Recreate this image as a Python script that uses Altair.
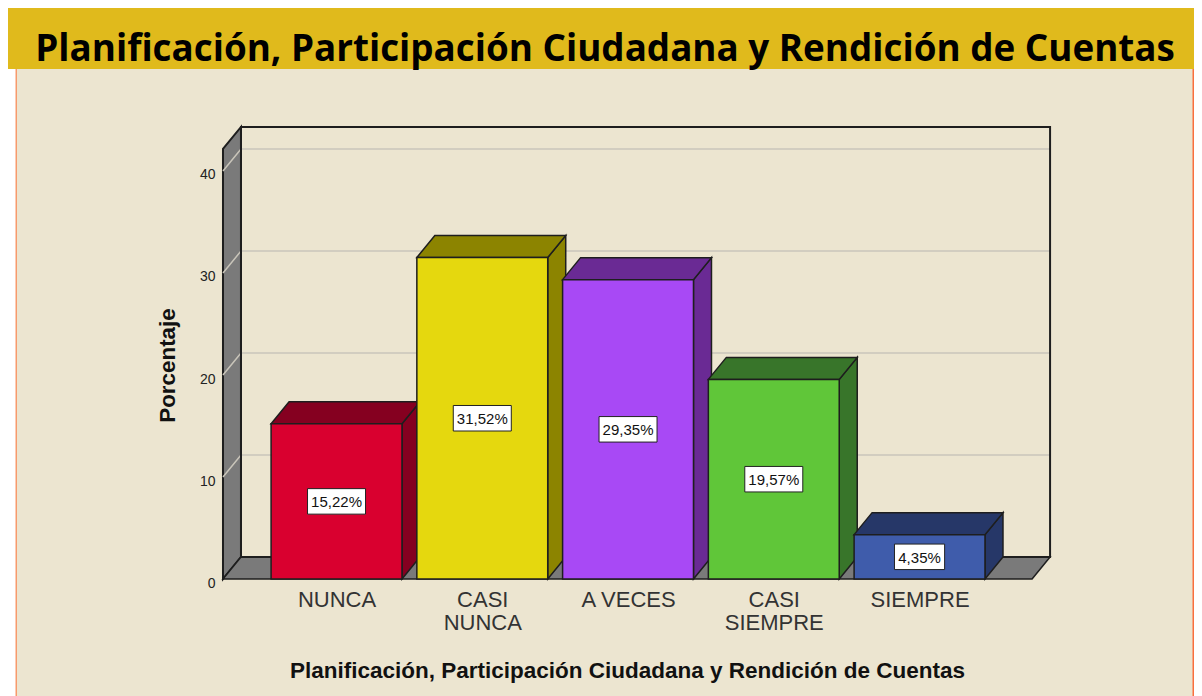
import json
import altair as alt
import pandas as pd

# ---- chart values ----
CATEGORIES = [["NUNCA"], ["CASI", "NUNCA"], ["A VECES"], ["CASI", "SIEMPRE"], ["SIEMPRE"]]
VALUES = [15.22, 31.52, 29.35, 19.57, 4.35]
LABELS = ["15,22%", "31,52%", "29,35%", "19,57%", "4,35%"]
FRONT = ["#D9002F", "#E5D80E", "#A849F5", "#60C639", "#3F5CAB"]
SHADE = ["#850020", "#8C8400", "#6A2A94", "#38752A", "#263768"]
Y_TICKS = [0, 10, 20, 30, 40]
GRID = [10, 20, 30, 40]
TITLE = "Planificación, Participación Ciudadana y Rendición de Cuentas"
Y_TITLE = "Porcentaje"

# ---- geometry of the pseudo-3D frame, in data units ----
W, H = 1186, 688
X_DOMAIN = [-2.254, 5.883]
Y_DOMAIN = [-11.47, 55.98]
HALF = 0.449          # half bar width
DX, DY = 0.1235, 2.157  # depth offset
WALL_L, WALL_R, WALL_TOP = -0.779, 4.772, 42.16
BG, WALL, INK, GRIDC = "#ECE5D0", "#7A7A7A", "#1E1E1E", "#C9C5BA"

xs = alt.Scale(domain=X_DOMAIN, nice=False, zero=False)
ys = alt.Scale(domain=Y_DOMAIN, nice=False, zero=False)
X_AXIS = alt.Axis(values=list(range(len(CATEGORIES))),
                  labelExpr=json.dumps(CATEGORIES) + "[datum.value]",
                  domain=False, ticks=False, grid=False, zindex=1,
                  offset=-(696 - 579),
                  labelFont="Liberation Sans", labelFontSize=22,
                  labelColor="#333333", labelPadding=10, labelLineHeight=23,
                  labelOverlap=False, labelFlush=False, labelBound=False,
                  labelBaseline="top",
                  title=TITLE, titleFont="Liberation Sans", titleFontSize=22.5,
                  titleFontWeight="bold", titleColor="#111111",
                  titleX=619, titleY=91,
                  titleAlign="center", titleBaseline="middle")
Y_AXIS = alt.Axis(values=Y_TICKS, domain=False, ticks=False, grid=False,
                  zindex=1, offset=-215, labelFont="Liberation Sans",
                  labelFontSize=14, labelColor="#222222", labelPadding=8,
                  labelOffset=4,
                  labelOverlap=False, labelBound=False,
                  title=Y_TITLE, titleFont="Liberation Sans", titleFontSize=22.4,
                  titleFontWeight="bold", titleColor="#111111",
                  titleX=-56, titleY=357, titleAlign="center",
                  titleBaseline="middle")
X = lambda f: alt.X(f"{f}:Q", scale=xs, axis=X_AXIS)
Y = lambda f: alt.Y(f"{f}:Q", scale=ys, axis=Y_AXIS, stack=False)
X2 = lambda f: alt.X2(f"{f}:Q")
Y2 = lambda f: alt.Y2(f"{f}:Q")
one = alt.Data(values=[{"a": 0}])


def chrome(color, x0, x1, y0, y1):
    return alt.Chart(one).mark_rect(fill=color).encode(
        x=alt.value(x0), x2=alt.value(x1), y=alt.value(y0), y2=alt.value(y1))


# page furniture
backdrop = chrome(BG, 8, 1186, 61, H)
edge_l = chrome("#F79A6C", 7.5, 9, 61, H)
edge_r = chrome("#F9703E", 1184.5, 1186, 61, H)
banner = chrome("#E0BA1C", 0, W, 0, 61)
banner_text = alt.Chart(alt.Data(values=[{"t": TITLE}])).mark_text(
    font="Open Sans", fontWeight="bold", fontSize=36.8, color="#000000",
    align="center", baseline="middle").encode(
    x=alt.value(597), y=alt.value(42), text="t:N")

# left wall and floor of the box
left_wall = alt.Chart(pd.DataFrame({
    "x": [WALL_L, WALL_L + DX], "lo": [0, DY], "hi": [WALL_TOP, WALL_TOP + DY]
})).mark_area(fill=WALL, stroke=INK, strokeWidth=2).encode(
    x=X("x"), y=Y("lo"), y2=Y2("hi"))

floor = alt.Chart(pd.DataFrame({
    "x": [WALL_L, WALL_L + DX, WALL_R, WALL_R + DX],
    "lo": [0, 0, 0, DY], "hi": [0, DY, DY, DY]
})).mark_area(fill=WALL, stroke=INK, strokeWidth=1.5).encode(
    x=X("x"), y=Y("lo"), y2=Y2("hi"))

# grid lines: slanted on the wall, straight across the back
grid_rows = []
for g in GRID:
    grid_rows.append({"g": g, "x": WALL_L, "y": g})
    grid_rows.append({"g": g, "x": WALL_L + DX, "y": g + DY})
    grid_rows.append({"g": g, "x": WALL_R + DX, "y": g + DY})
grid = alt.Chart(pd.DataFrame(grid_rows)).mark_line(color=GRIDC, strokeWidth=1.5).encode(
    x=X("x"), y=Y("y"), detail="g:N")

back = alt.Chart(pd.DataFrame({
    "x": [WALL_L + DX], "x2": [WALL_R + DX], "y": [DY], "y2": [WALL_TOP + DY]
})).mark_rect(fill=None, stroke=INK, strokeWidth=2).encode(
    x=X("x"), x2=X2("x2"), y=Y("y"), y2=Y2("y2"))

# bar faces
faces = []
for i, v in enumerate(VALUES):
    x0, x1 = i - HALF, i + HALF
    for x, lo, hi in [(x1, 0, v), (x1 + DX, DY, v + DY)]:
        faces.append({"face": f"s{i}", "x": x, "lo": lo, "hi": hi, "c": SHADE[i]})
    for x, lo, hi in [(x0, v, v), (x0 + DX, v, v + DY), (x1, v, v + DY), (x1 + DX, v + DY, v + DY)]:
        faces.append({"face": f"t{i}", "x": x, "lo": lo, "hi": hi, "c": SHADE[i]})
depth = alt.Chart(pd.DataFrame(faces)).mark_area(stroke=INK, strokeWidth=1.5).encode(
    x=X("x"), y=Y("lo"), y2=Y2("hi"), detail="face:N",
    fill=alt.Fill("c:N", scale=None))

bars_df = pd.DataFrame({
    "i": range(len(VALUES)), "v": VALUES, "label": LABELS, "c": FRONT,
})
bars_df["x0"] = bars_df.i - HALF
bars_df["x1"] = bars_df.i + HALF
bars_df["y0"] = 0.0
bars_df["mid"] = bars_df.v / 2
bars_df["bw"] = [0.199 if len(s) > 5 else 0.172 for s in LABELS]
bars_df["bx0"] = bars_df.i - bars_df.bw
bars_df["bx1"] = bars_df.i + bars_df.bw
bars_df["by0"] = bars_df.mid - 1.25
bars_df["by1"] = bars_df.mid + 1.25

fronts = alt.Chart(bars_df).mark_rect(stroke=INK, strokeWidth=1.5).encode(
    x=X("x0"), x2=X2("x1"), y=Y("y0"), y2=Y2("v"), fill=alt.Fill("c:N", scale=None))
boxes = alt.Chart(bars_df).mark_rect(fill="#FFFFFF", stroke="#222222", strokeWidth=1).encode(
    x=X("bx0"), x2=X2("bx1"), y=Y("by0"), y2=Y2("by1"))
texts = alt.Chart(bars_df).mark_text(
    font="Liberation Sans", fontSize=15, color="#111111", align="center", baseline="middle",
    dy=1
).encode(x=X("i"), y=Y("mid"), text="label:N")

chart = alt.layer(
    backdrop, edge_l, edge_r, banner, banner_text,
    left_wall, floor, grid, back, depth, fronts, boxes, texts
).properties(
    width=W, height=H, padding=0, background="#FFFFFF",
    autosize=alt.AutoSizeParams(type="none")
).configure_view(stroke=None)

chart.save("out.html", embed_options={"renderer": "svg", "actions": False})
